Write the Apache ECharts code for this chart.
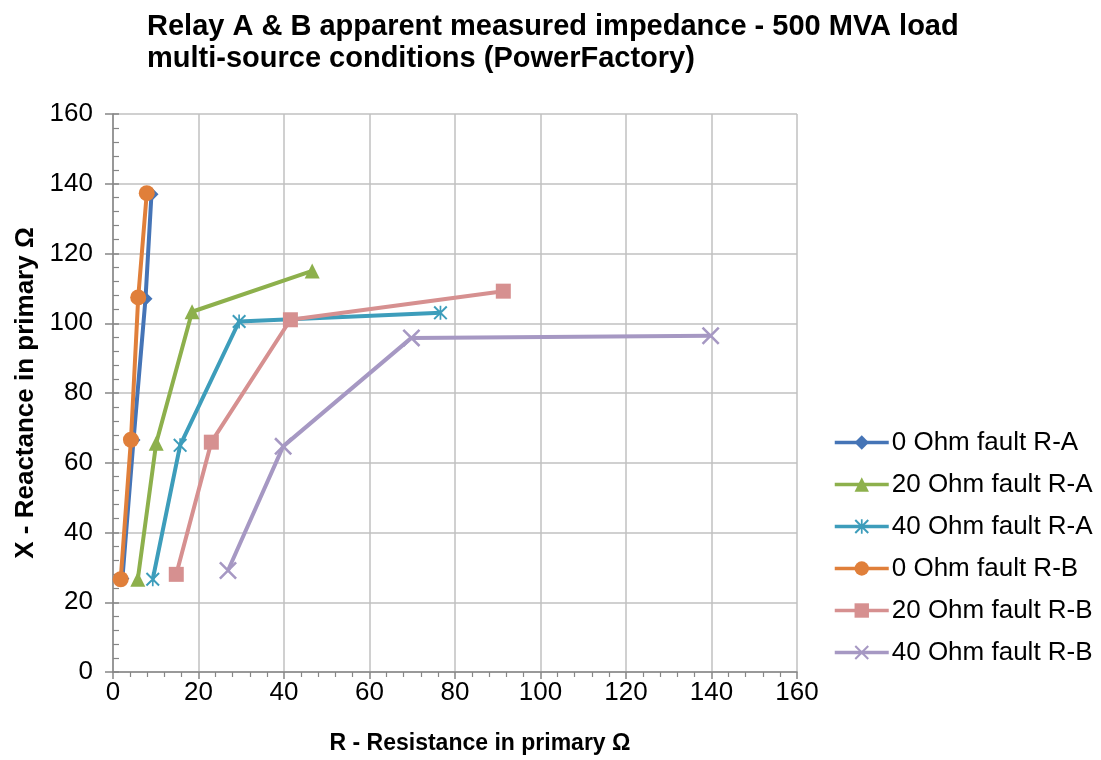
<!DOCTYPE html>
<html>
<head>
<meta charset="utf-8">
<script src="https://cdn.jsdelivr.net/npm/echarts@6/dist/echarts.min.js"></script>
<style>html,body{margin:0;padding:0;background:#fff}#c{width:1101px;height:760px}</style>
</head>
<body>
<div id="c"></div>
<script>
const seriesNames = ['0 Ohm fault R-A','20 Ohm fault R-A','40 Ohm fault R-A','0 Ohm fault R-B','20 Ohm fault R-B','40 Ohm fault R-B'];
const r0A  = [[2.2,26.8],[4.8,66.5],[7.6,107.0],[9.0,137.0]];
const r20A = [[5.8,26.6],[10.1,65.6],[18.5,103.3],[46.6,115.0]];
const r40A = [[9.3,26.6],[15.7,65.0],[29.5,100.5],[76.6,103.0]];
const r0B  = [[1.8,26.6],[4.2,66.6],[5.9,107.4],[7.9,137.3]];
const r20B = [[14.8,28.0],[23.0,65.9],[41.5,101.0],[91.3,109.2]];
const r40B = [[26.9,29.1],[39.8,64.7],[69.8,95.8],[139.8,96.4]];
const xTicks = [0,20,40,60,80,100,120,140,160];
const yTicks = [0,20,40,60,80,100,120,140,160];

const colors = ['#4574b6','#8db04c','#3d9dbb','#e07f3a','#d69090','#a698c3'];
const XPATH = 'path://M1,0 L10,9 L9,10 L0,1 Z M9,0 L10,1 L1,10 L0,9 Z';
const STARPATH = 'path://M1,0 L10,9 L9,10 L0,1 Z M9,0 L10,1 L1,10 L0,9 Z M4.4,0 L5.6,0 L5.6,10 L4.4,10 Z';
const symbols = ['diamond','triangle',STARPATH,'circle','rect',XPATH];
const sizes = [14,15,14,16,15,18];
const datas = [r0A,r20A,r40A,r0B,r20B,r40B];
const FONT = 'Liberation Sans, Arial, sans-serif';

const chart = echarts.init(document.getElementById('c'));
const gridLine = {show:true, lineStyle:{color:'#c0c0c0', width:1.5}};
const axisLineS = {show:true, lineStyle:{color:'#868686', width:1.5}};
const labelS = {color:'#000', fontSize:26, fontFamily:FONT};
chart.setOption({
  animation:false,
  title:{
    text:'Relay A & B apparent measured impedance - 500 MVA load\nmulti-source conditions (PowerFactory)',
    left:142, top:6,
    textStyle:{fontSize:29, fontWeight:'bold', color:'#000', fontFamily:FONT, lineHeight:32}
  },
  grid:{left:113, right:304, top:114, bottom:85},
  xAxis:{
    type:'value', min:0, max:160, interval:20,
    axisLine:axisLineS,
    axisTick:{show:true, length:7, lineStyle:{color:'#868686', width:1.5}},
    minorTick:{show:true, splitNumber:5, length:5, lineStyle:{color:'#868686', width:1.2}},
    splitLine:gridLine,
    axisLabel:Object.assign({}, labelS, {margin:8, formatter:v=>xTicks.includes(v)?String(v):''}),
    name:'R - Resistance in primary Ω', nameLocation:'middle', nameGap:60,
    nameTextStyle:{color:'#000', fontSize:23, fontWeight:'bold', fontFamily:FONT, padding:[0,0,0,50]}
  },
  yAxis:[{
    type:'value', min:0, max:160, interval:20,
    axisLine:axisLineS,
    axisTick:{show:true, inside:true, length:6, lineStyle:{color:'#868686', width:1.5}},
    minorTick:{show:true, splitNumber:5, length:6, lineStyle:{color:'#868686', width:1.2}},
    splitLine:gridLine,
    axisLabel:Object.assign({}, labelS, {margin:20, formatter:v=>yTicks.includes(v)?String(v):''}),
    name:'X - Reactance in primary Ω', nameLocation:'middle', nameGap:67,
    nameTextStyle:{color:'#000', fontSize:26, fontWeight:'bold', fontFamily:FONT}
  },{
    type:'value', min:0, max:160, interval:20, position:'left',
    axisLine:{show:false},
    axisTick:{show:true, inside:false, length:8, lineStyle:{color:'#868686', width:1.5}},
    splitLine:{show:false},
    axisLabel:{show:false}
  }],
  legend:{
    orient:'vertical', left:828, top:424,
    itemWidth:54, itemHeight:18, itemGap:15,
    lineStyle:{width:3.5},
    textStyle:{fontSize:26, lineHeight:27, color:'#000', fontFamily:FONT, padding:[0,0,0,-2]},
    data:seriesNames
  },
  series: seriesNames.map((n,i)=>({
    name:n, type:'line', data:datas[i],
    symbol:symbols[i], symbolSize:sizes[i],
    itemStyle:{color:colors[i]},
    lineStyle:{color:colors[i], width:4},
    emphasis:{disabled:true}
  }))
});
</script>
</body>
</html>
